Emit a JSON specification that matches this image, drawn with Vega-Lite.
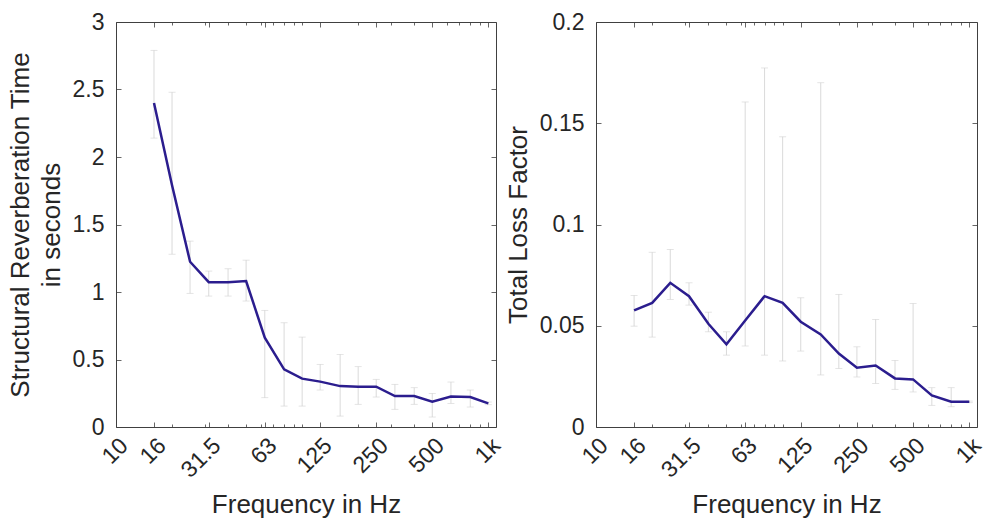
{
  "$schema": "https://vega.github.io/schema/vega-lite/v6.json",
  "background": "white",
  "padding": {"left": 6, "top": 10, "right": 0, "bottom": 0},
  "bounds": "flush",
  "spacing": 100,
  "config": {
    "view": {"stroke": "#404040", "strokeWidth": 1},
    "axis": {
      "domain": false, "grid": false,
      "tickColor": "#404040", "tickWidth": 0.8,
      "labelFont": "Liberation Sans", "labelFontSize": 23, "labelColor": "#262626",
      "titleFont": "Liberation Sans", "titleFontSize": 26, "titleFontWeight": "normal", "titleColor": "#262626",
      "titleLineHeight": 31
    }
  },
  "datasets": {
    "rt": [
      {"f": 16, "v": 2.40, "lo": 2.14, "hi": 2.79},
      {"f": 20, "v": 1.79, "lo": 1.28, "hi": 2.48},
      {"f": 25, "v": 1.224, "lo": 0.99, "hi": 1.377},
      {"f": 31.5, "v": 1.073, "lo": 0.97, "hi": 1.155},
      {"f": 40, "v": 1.073, "lo": 0.97, "hi": 1.172},
      {"f": 50, "v": 1.081, "lo": 0.933, "hi": 1.236},
      {"f": 63, "v": 0.661, "lo": 0.217, "hi": 0.864},
      {"f": 80, "v": 0.427, "lo": 0.155, "hi": 0.772},
      {"f": 100, "v": 0.358, "lo": 0.155, "hi": 0.666},
      {"f": 125, "v": 0.336, "lo": 0.274, "hi": 0.464},
      {"f": 160, "v": 0.303, "lo": 0.081, "hi": 0.538},
      {"f": 200, "v": 0.299, "lo": 0.168, "hi": 0.447},
      {"f": 250, "v": 0.299, "lo": 0.222, "hi": 0.353},
      {"f": 315, "v": 0.229, "lo": 0.131, "hi": 0.316},
      {"f": 400, "v": 0.229, "lo": 0.168, "hi": 0.291},
      {"f": 500, "v": 0.188, "lo": 0.074, "hi": 0.249},
      {"f": 630, "v": 0.225, "lo": 0.175, "hi": 0.333},
      {"f": 800, "v": 0.222, "lo": 0.148, "hi": 0.274},
      {"f": 1000, "v": 0.175, "lo": 0.165, "hi": 0.185}
    ],
    "lf": [
      {"f": 16, "v": 0.0576, "lo": 0.0498, "hi": 0.065},
      {"f": 20, "v": 0.0613, "lo": 0.0444, "hi": 0.0863},
      {"f": 25, "v": 0.0712, "lo": 0.063, "hi": 0.0877},
      {"f": 31.5, "v": 0.0646, "lo": 0.0602, "hi": 0.0712},
      {"f": 40, "v": 0.051, "lo": 0.047, "hi": 0.0567},
      {"f": 50, "v": 0.0408, "lo": 0.0355, "hi": 0.047},
      {"f": 63, "v": 0.0526, "lo": 0.040, "hi": 0.1605},
      {"f": 80, "v": 0.0646, "lo": 0.0355, "hi": 0.1773},
      {"f": 100, "v": 0.0613, "lo": 0.0326, "hi": 0.1433},
      {"f": 125, "v": 0.052, "lo": 0.0375, "hi": 0.0638},
      {"f": 160, "v": 0.0457, "lo": 0.0257, "hi": 0.170},
      {"f": 200, "v": 0.0363, "lo": 0.0289, "hi": 0.0655},
      {"f": 250, "v": 0.0293, "lo": 0.0247, "hi": 0.0396},
      {"f": 315, "v": 0.0304, "lo": 0.0215, "hi": 0.0531},
      {"f": 400, "v": 0.024, "lo": 0.0186, "hi": 0.0329},
      {"f": 500, "v": 0.0235, "lo": 0.0173, "hi": 0.061},
      {"f": 630, "v": 0.0156, "lo": 0.0107, "hi": 0.0194},
      {"f": 800, "v": 0.0125, "lo": 0.010, "hi": 0.0194},
      {"f": 1000, "v": 0.0125, "lo": 0.012, "hi": 0.0128}
    ]
  },
  "hconcat": [
    {
      "width": 380, "height": 405,
      "data": {"name": "rt"},
      "resolve": {"axis": {"x": "independent", "y": "independent"}},
      "layer": [
        {
          "mark": {"type": "rule", "color": "#d0d0d0", "strokeWidth": 0.8},
          "encoding": {
            "x": {"field": "f", "type": "quantitative",
              "scale": {"type": "log", "domain": [10, 1100], "nice": false},
              "axis": {"orient": "bottom", "values": [10, 16, 31.5, 63, 125, 250, 500, 1000],
                "labelExpr": "datum.value >= 1000 ? '1k' : format(datum.value, '~g')",
                "labelAngle": -45, "tickSize": -5, "labelPadding": 12, "labelOffset": 0, "titlePadding": 10,
                "title": "Frequency in Hz"}},
            "y": {"field": "lo", "type": "quantitative",
              "scale": {"domain": [0, 3], "nice": false, "zero": false},
              "axis": {"orient": "left", "values": [0, 0.5, 1, 1.5, 2, 2.5, 3],
                "labelExpr": "format(datum.value, '~g')",
                "tickSize": -5, "labelPadding": 17, "titlePadding": 8,
                "title": ["Structural Reverberation Time", "in seconds"]}},
            "y2": {"field": "hi"}
          }
        },
        {
          "mark": {"type": "tick", "orient": "horizontal", "size": 7, "thickness": 0.8, "color": "#d0d0d0"},
          "encoding": {
            "x": {"field": "f", "type": "quantitative",
              "axis": {"orient": "top", "values": [10, 16, 31.5, 63, 125, 250, 500, 1000],
                "labels": false, "tickSize": -5, "title": null}},
            "y": {"field": "hi", "type": "quantitative",
              "axis": {"orient": "right", "values": [0, 0.5, 1, 1.5, 2, 2.5, 3],
                "labels": false, "tickSize": -5, "title": null}}
          }
        },
        {
          "mark": {"type": "tick", "orient": "horizontal", "size": 7, "thickness": 0.8, "color": "#d0d0d0"},
          "encoding": {
            "x": {"field": "f", "type": "quantitative",
              "axis": {"orient": "bottom", "values": [20, 30, 40, 50, 60, 70, 80, 90, 100, 200, 300, 400, 600, 700, 800, 900],
                "labels": false, "tickSize": -3, "title": null}},
            "y": {"field": "lo", "type": "quantitative", "axis": null}
          }
        },
        {
          "mark": {"type": "line", "color": "#2b1d8e", "strokeWidth": 2.5},
          "encoding": {
            "x": {"field": "f", "type": "quantitative",
              "axis": {"orient": "top", "values": [20, 30, 40, 50, 60, 70, 80, 90, 100, 200, 300, 400, 600, 700, 800, 900],
                "labels": false, "tickSize": -3, "title": null}},
            "y": {"field": "v", "type": "quantitative", "axis": null}
          }
        }
      ]
    },
    {
      "width": 381, "height": 405,
      "data": {"name": "lf"},
      "resolve": {"axis": {"x": "independent", "y": "independent"}},
      "layer": [
        {
          "mark": {"type": "rule", "color": "#d0d0d0", "strokeWidth": 0.8},
          "encoding": {
            "x": {"field": "f", "type": "quantitative",
              "scale": {"type": "log", "domain": [10, 1100], "nice": false},
              "axis": {"orient": "bottom", "values": [10, 16, 31.5, 63, 125, 250, 500, 1000],
                "labelExpr": "datum.value >= 1000 ? '1k' : format(datum.value, '~g')",
                "labelAngle": -45, "tickSize": -5, "labelPadding": 12, "labelOffset": 0, "titlePadding": 10,
                "title": "Frequency in Hz"}},
            "y": {"field": "lo", "type": "quantitative",
              "scale": {"domain": [0, 0.2], "nice": false, "zero": false},
              "axis": {"orient": "left", "values": [0, 0.05, 0.1, 0.15, 0.2],
                "labelExpr": "format(datum.value, '~g')",
                "tickSize": -5, "labelPadding": 17, "titlePadding": 8,
                "title": "Total Loss Factor"}},
            "y2": {"field": "hi"}
          }
        },
        {
          "mark": {"type": "tick", "orient": "horizontal", "size": 7, "thickness": 0.8, "color": "#d0d0d0"},
          "encoding": {
            "x": {"field": "f", "type": "quantitative",
              "axis": {"orient": "top", "values": [10, 16, 31.5, 63, 125, 250, 500, 1000],
                "labels": false, "tickSize": -5, "title": null}},
            "y": {"field": "hi", "type": "quantitative",
              "axis": {"orient": "right", "values": [0, 0.05, 0.1, 0.15, 0.2],
                "labels": false, "tickSize": -5, "title": null}}
          }
        },
        {
          "mark": {"type": "tick", "orient": "horizontal", "size": 7, "thickness": 0.8, "color": "#d0d0d0"},
          "encoding": {
            "x": {"field": "f", "type": "quantitative",
              "axis": {"orient": "bottom", "values": [20, 30, 40, 50, 60, 70, 80, 90, 100, 200, 300, 400, 600, 700, 800, 900],
                "labels": false, "tickSize": -3, "title": null}},
            "y": {"field": "lo", "type": "quantitative", "axis": null}
          }
        },
        {
          "mark": {"type": "line", "color": "#2b1d8e", "strokeWidth": 2.5},
          "encoding": {
            "x": {"field": "f", "type": "quantitative",
              "axis": {"orient": "top", "values": [20, 30, 40, 50, 60, 70, 80, 90, 100, 200, 300, 400, 600, 700, 800, 900],
                "labels": false, "tickSize": -3, "title": null}},
            "y": {"field": "v", "type": "quantitative", "axis": null}
          }
        }
      ]
    }
  ]
}
